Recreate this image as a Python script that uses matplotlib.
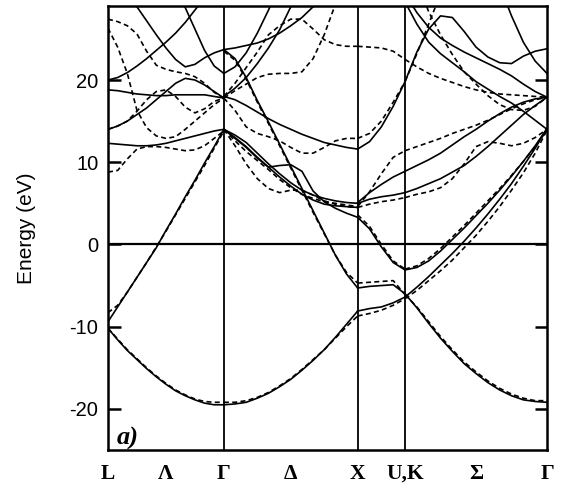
import numpy as np
import matplotlib
matplotlib.use("Agg")
import matplotlib.pyplot as plt

nan = np.nan

# high-symmetry points along the path (units of 2*pi/a)
k_L, k_G, k_X, k_UK, k_G2 = 0.0, 0.866, 1.866, 2.220, 3.281
sym_pos = [k_L, (k_L + k_G) / 2, k_G, (k_G + k_X) / 2, k_X, k_UK, (k_UK + k_G2) / 2, k_G2]
sym_labels = ["L", "Λ", "Γ", "Δ", "X", "U,K", "Σ", "Γ"]

# band energies (eV) on an even k grid inside each segment
# L -> Gamma
solid_LG = [
    [-10.2, -11.6, -12.9, -14.0, -15.1, -16.1, -17.0, -17.8, -18.4, -18.9, -19.3, -19.5, -19.5],
    [-9.4, -7.6, -5.8, -4.0, -2.2, -0.4, 1.7, 3.7, 5.8, 7.8, 9.9, 11.9, 14.0],
    [12.3, 12.2, 12.1, 12.0, 12.0, 12.1, 12.3, 12.6, 12.9, 13.2, 13.5, 13.8, 14.0],
    [14.0, 14.4, 15.0, 15.8, 16.6, 17.6, 18.6, 19.6, 20.2, 20.0, 19.4, 18.6, 17.8],
    [18.8, 18.7, 18.5, 18.3, 18.2, 18.1, 18.1, 18.2, 18.2, 18.2, 18.2, 18.0, 17.8],
    [20.0, 20.3, 20.9, 21.7, 22.6, 23.6, 24.6, 25.7, 27.0, 28.5, 30.0, 31.5, 33.0],
    [34.0, 32.3, 30.6, 28.9, 27.2, 25.5, 23.9, 22.5, 21.6, 21.9, 22.7, 23.3, 23.7],
    [nan, nan, nan, nan, nan, nan, nan, 32.0, 28.8, 26.2, 23.6, 21.7, 20.8],
]
dashed_LG = [
    [-10.2, -11.5, -12.8, -13.9, -15.0, -16.0, -16.9, -17.7, -18.3, -18.8, -19.1, -19.2, -19.2],
    [-8.3, -7.4, -5.8, -4.0, -2.2, -0.3, 1.6, 3.6, 5.6, 7.6, 9.6, 11.7, 13.8],
    [27.4, 27.1, 26.6, 25.6, 23.5, 21.8, 21.3, 21.0, 20.8, 20.4, 19.6, 18.5, 17.8],
    [26.3, 24.0, 20.8, 16.3, 14.2, 13.2, 12.9, 13.1, 14.0, 15.0, 16.0, 17.0, 17.8],
    [14.0, 14.4, 15.0, 16.2, 17.6, 18.6, 18.8, 18.0, 16.7, 16.0, 16.5, 17.4, 17.8],
    [8.8, 9.0, 10.4, 11.6, 11.9, 11.9, 11.8, 11.6, 11.4, 11.5, 12.0, 12.9, 13.8],
]

# Gamma -> X
solid_GX = [
    [-19.5, -19.4, -19.2, -18.7, -18.1, -17.3, -16.4, -15.3, -14.1, -12.8, -11.3, -9.7, -8.1],
    [23.7, 22.6, 20.3, 17.5, 14.9, 12.2, 9.5, 6.8, 4.1, 1.4, -1.3, -3.6, -5.3],
    [23.7, 23.9, 24.2, 24.5, 25.0, 25.7, 26.6, 27.6, 28.9, 30.4, 32.0, 33.5, 35.0],
    [20.8, 21.6, 23.3, 25.7, 28.5, 31.5, 34.5, nan, nan, nan, nan, nan, nan],
    [18.0, 19.0, 20.3, 22.0, 23.9, 26.1, 28.9, 31.8, nan, nan, nan, nan, nan],
    [18.0, 17.6, 16.9, 16.1, 15.3, 14.6, 14.0, 13.4, 12.9, 12.4, 12.1, 11.8, 11.6],
    [14.0, 13.3, 12.4, 11.1, 9.8, 8.6, 7.5, 6.6, 6.0, 5.6, 5.3, 5.1, 5.0],
    [14.0, 13.0, 11.9, 10.6, 9.4, 8.2, 7.1, 6.1, 5.4, 4.9, 4.7, 4.6, 4.5],
    [14.0, 12.9, 11.8, 10.5, 9.4, 9.6, 9.7, 8.9, 6.5, 5.2, 4.4, 3.8, 3.3],
]
dashed_GX = [
    [-19.2, -19.2, -19.0, -18.6, -18.0, -17.2, -16.3, -15.2, -14.0, -12.8, -11.4, -10.0, -8.7],
    [23.5, 22.4, 20.1, 17.3, 14.7, 12.0, 9.3, 6.6, 3.9, 1.3, -1.3, -3.4, -4.7],
    [17.8, 16.3, 14.3, 13.5, 13.1, 12.6, 11.8, 11.1, 11.1, 11.8, 12.6, 12.9, 12.9],
    [14.0, 12.6, 11.3, 10.2, 9.1, 7.9, 6.9, 6.1, 5.6, 5.2, 5.0, 4.8, 4.6],
    [14.0, 12.0, 9.8, 8.0, 6.8, 6.3, 6.6, 6.6, 6.0, 5.3, 4.9, 4.6, 4.5],
    [18.0, 19.6, 21.5, 23.4, 25.5, 26.6, 27.4, 27.4, 26.2, 24.9, 24.3, 24.1, 24.1],
    [17.8, 18.7, 19.5, 20.3, 20.7, 20.8, 20.8, 21.0, 22.6, 25.5, 29.2, 33.0, nan],
]

# X -> U
solid_XU = [
    [-8.1, -7.8, -7.6, -7.1, -6.4],
    [-5.3, -5.1, -5.0, -4.9, -6.0],
    [3.3, 1.9, -0.3, -2.2, -3.1],
    [5.1, 6.3, 7.3, 8.2, 8.9],
    [5.0, 5.5, 5.8, 6.0, 6.3],
    [11.6, 12.5, 14.3, 16.8, 19.8],
]
dashed_XU = [
    [-8.7, -8.4, -8.0, -7.4, -6.6],
    [-4.7, -4.6, -4.5, -4.4, -6.1],
    [3.6, 2.2, 0.0, -2.0, -3.0],
    [4.6, 6.4, 8.6, 10.6, 11.4],
    [4.5, 4.9, 5.2, 5.4, 5.7],
    [12.9, 13.5, 15.0, 17.3, 19.8],
    [24.1, 24.0, 23.9, 23.5, 22.5],
]

# K -> Gamma
solid_KG = [
    [-6.4, -5.2, -3.9, -2.5, -1.1, 0.4, 2.0, 3.7, 5.5, 7.4, 9.5, 11.7, 14.1],
    [-6.0, -7.7, -9.6, -11.4, -13.0, -14.5, -15.7, -16.8, -17.7, -18.4, -18.9, -19.1, -19.2],
    [-3.1, -2.8, -2.0, -0.8, 0.6, 2.0, 3.5, 5.0, 6.6, 8.3, 10.1, 12.0, 14.1],
    [8.9, 9.6, 10.3, 11.1, 12.1, 13.1, 14.0, 15.0, 15.9, 16.7, 17.3, 17.7, 17.9],
    [6.3, 6.8, 7.4, 8.0, 8.8, 9.6, 10.7, 11.9, 13.2, 14.5, 15.8, 16.9, 17.9],
    [19.8, 23.4, 26.2, 27.8, 27.6, 25.9, 24.0, 22.8, 22.1, 22.0, 22.9, 23.5, 23.8],
    [29.5, 26.8, 24.6, 23.2, 22.1, 21.0, 19.8, 18.9, 18.0, 17.2, 16.2, 15.1, 14.0],
    [30.5, 28.2, 26.4, 25.1, 24.2, 23.4, 22.7, 22.0, 21.3, 20.5, 19.5, 18.6, 17.9],
    [nan, nan, nan, nan, nan, nan, nan, nan, 31.5, 27.8, 24.6, 22.3, 20.8],
]
dashed_KG = [
    [-6.6, -5.6, -4.4, -3.2, -1.9, -0.4, 1.1, 2.8, 4.6, 6.6, 8.7, 11.1, 13.9],
    [-6.1, -7.6, -9.4, -11.2, -12.8, -14.3, -15.5, -16.6, -17.5, -18.2, -18.7, -19.0, -19.0],
    [-3.0, -2.6, -1.7, -0.5, 0.9, 2.3, 3.8, 5.3, 6.8, 8.4, 10.1, 11.9, 13.9],
    [11.4, 11.9, 12.4, 12.9, 13.5, 14.0, 14.5, 15.1, 15.8, 16.5, 17.1, 17.6, 17.9],
    [5.7, 6.1, 6.4, 6.9, 8.0, 9.8, 11.9, 12.5, 12.3, 12.0, 12.3, 13.0, 14.0],
    [19.8, 23.2, 26.8, 30.5, nan, nan, nan, nan, nan, nan, nan, nan, nan],
    [22.5, 21.6, 20.8, 20.2, 19.7, 19.2, 18.8, 18.5, 18.3, 18.2, 18.1, 18.0, 17.9],
    [nan, 32.0, 28.3, 25.5, 23.1, 21.0, 19.5, 18.1, 17.0, 16.4, 16.3, 16.8, 17.9],
]

segments = [
    (k_L, k_G, solid_LG, dashed_LG),
    (k_G, k_X, solid_GX, dashed_GX),
    (k_X, k_UK, solid_XU, dashed_XU),
    (k_UK, k_G2, solid_KG, dashed_KG),
]

plt.rcParams["font.family"] = ["Liberation Sans", "DejaVu Sans"]
plt.rcParams["axes.unicode_minus"] = False

fig = plt.figure(figsize=(5.69, 4.93), dpi=100)
ax = fig.add_axes([108 / 569, 43 / 493, 439 / 569, 444 / 493])

for k0, k1, solid, dashed in segments:
    for band in solid:
        kk = np.linspace(k0, k1, len(band))
        ax.plot(kk, band, color="black", lw=1.2, solid_joinstyle="round")
    for band in dashed:
        kk = np.linspace(k0, k1, len(band))
        ax.plot(kk, band, color="black", lw=1.2, ls=(0, (3, 2)))

for kv in (k_G, k_X, k_UK):
    ax.axvline(kv, color="black", lw=1.3)
ax.axhline(0, color="black", lw=1.6)

ax.set_xlim(k_L, k_G2)
ax.set_ylim(-25, 29)
ax.set_yticks([-20, -10, 0, 10, 20])
ax.tick_params(axis="y", direction="in", length=9, width=1.8, right=True,
               labelsize=14.5, pad=7)
ax.set_xticks(sym_pos)
ax.set_xticklabels(sym_labels, family=["Liberation Serif", "DejaVu Serif"],
                   fontsize=15.5, fontweight="bold")
ax.tick_params(axis="x", length=0, pad=10)
for sp in ax.spines.values():
    sp.set_linewidth(1.8)

ax.set_ylabel("Energy (eV)", fontsize=15, labelpad=24)
ax.text(0.02, 0.012, "a)", transform=ax.transAxes, fontsize=19,
        family=["Liberation Serif", "DejaVu Serif"], fontweight="bold",
        style="italic")

fig.savefig("out.png", dpi=100)
